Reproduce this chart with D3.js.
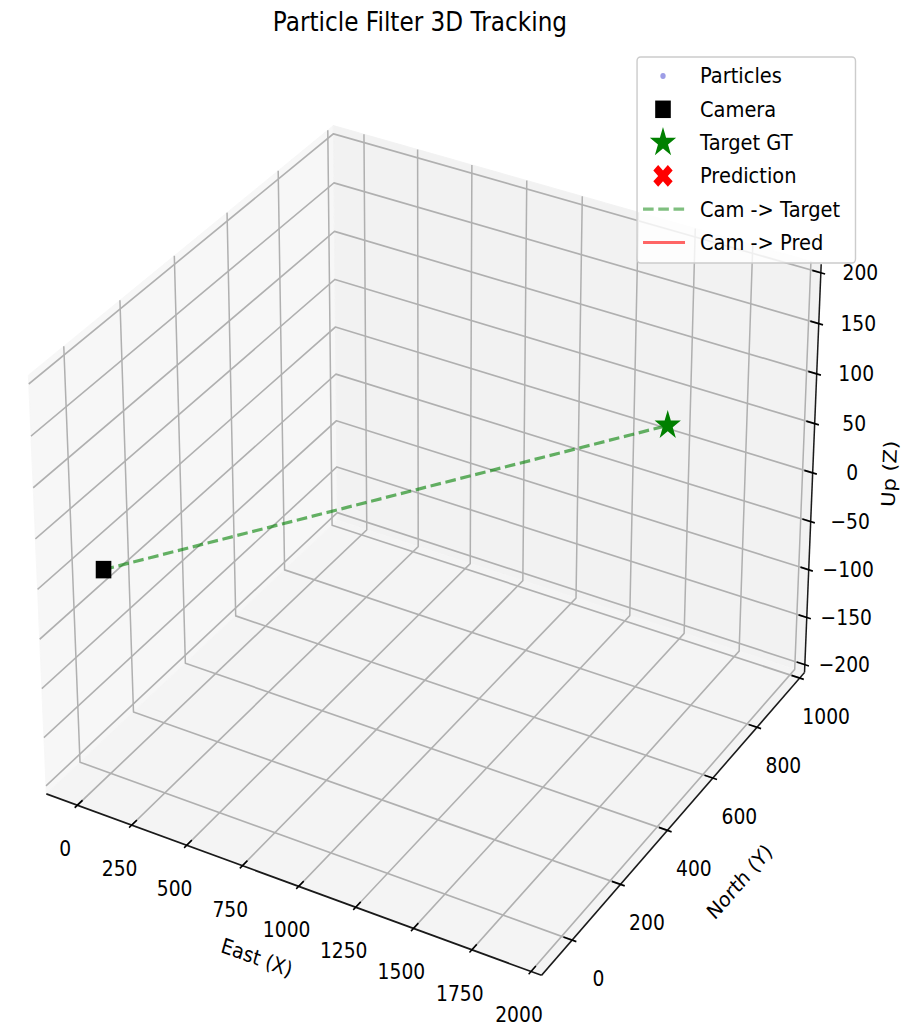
<!DOCTYPE html>
<html>
<head>
<meta charset="utf-8">
<script src="https://cdn.jsdelivr.net/npm/d3@7"></script>
<style>
  html, body { margin: 0; padding: 0; background: #ffffff; }
  svg { display: block; }
  text { font-family: "DejaVu Sans", sans-serif; fill: #000; }
</style>
</head>
<body>
<svg id="chart" width="920" height="1030"></svg>
<script>
// ---- data ----
const xLimits = [-100, 2000];
const yLimits = [-100, 1000];
const zLimits = [-200, 200];
const xTicks = [0, 250, 500, 750, 1000, 1250, 1500, 1750, 2000];
const yTicks = [0, 200, 400, 600, 800, 1000];
const zTicks = [-200, -150, -100, -50, 0, 50, 100, 150, 200];
const cameraPos = [0, 0, 0];
const targetPos = [1520, 900, 40];
const particles = [];          // no particle cloud in this frame
const predictions = [];        // no prediction in this frame
const legendLabels = ["Particles", "Camera", "Target GT", "Prediction", "Cam -> Target", "Cam -> Pred"];
const titleText = "Particle Filter 3D Tracking";
const axisTitles = ["East (X)", "North (Y)", "Up (Z)"];

// ---- 3D view (elevation / azimuth / perspective) ----
const squeeze = 0.8916;
const elev = 30 * Math.PI / 180, azim = -60 * Math.PI / 180, dist = 10;
const boxAspect = [4, 4, 3].map(v => v * 1.8294640721620434 * 25 / 24 / Math.hypot(4, 4, 3));
const margin = 1 / 48;
const padded = lim => { const r = lim[1] - lim[0]; return [lim[0] - margin * r, lim[1] + margin * r]; };

const bx = d3.scaleLinear().domain(padded(xLimits)).range([-boxAspect[0] / 2, boxAspect[0] / 2]);
const by = d3.scaleLinear().domain(padded(yLimits)).range([-boxAspect[1] / 2, boxAspect[1] / 2]);
const bz = d3.scaleLinear().domain(padded(zLimits)).range([-boxAspect[2] / 2, boxAspect[2] / 2]);
const [x0, x1] = bx.range(), [y0, y1] = by.range(), [z0, z1] = bz.range();

const w = [Math.cos(elev) * Math.cos(azim), Math.cos(elev) * Math.sin(azim), Math.sin(elev)];
const u = [-Math.sin(azim), Math.cos(azim), 0];
const v = [-Math.sin(elev) * Math.cos(azim), -Math.sin(elev) * Math.sin(azim), Math.cos(elev)];
const dot = (a, b) => a[0] * b[0] + a[1] * b[1] + a[2] * b[2];

const S = 5344;
const screenX = d3.scaleLinear().domain([0, 1]).range([485, 485 + S]);
const screenY = d3.scaleLinear().domain([0, 1]).range([530, 530 - S]);

function projBox(d) {
  const depth = dist - dot(w, d);
  return [screenX(dot(u, d) / depth), screenY(dot(v, d) / depth)];
}
const toBox = p => [bx(p[0]), by(p[1]), bz(p[2])];
const project = p => projBox(toBox(p));
const line = d3.line();

// ---- drawing ----
const svg = d3.select("#chart");
const root = svg.append("g").attr("transform", `scale(${squeeze},1)`);

// back panes
const panes = [
  { pts: [[x0, y0, z0], [x0, y1, z0], [x0, y1, z1], [x0, y0, z1]], fill: "rgb(247,247,247)" },
  { pts: [[x0, y1, z0], [x1, y1, z0], [x1, y1, z1], [x0, y1, z1]], fill: "rgb(242,242,242)" },
  { pts: [[x0, y0, z0], [x1, y0, z0], [x1, y1, z0], [x0, y1, z0]], fill: "rgb(244,244,244)" }
];
root.append("g").selectAll("path").data(panes).join("path")
  .attr("d", p => line(p.pts.map(projBox)) + "Z")
  .attr("fill", p => p.fill)
  .attr("stroke", p => p.fill)
  .attr("stroke-width", 1);

// grid lines on the panes
const gridPaths = [
  ...xTicks.map(t => [[bx(t), y0, z0], [bx(t), y1, z0], [bx(t), y1, z1]]),
  ...yTicks.map(t => [[x1, by(t), z0], [x0, by(t), z0], [x0, by(t), z1]]),
  ...zTicks.map(t => [[x0, y0, bz(t)], [x0, y1, bz(t)], [x1, y1, bz(t)]])
];
root.append("g").selectAll("path").data(gridPaths).join("path")
  .attr("d", g => line(g.map(projBox)))
  .attr("fill", "none")
  .attr("stroke", "#b0b0b0")
  .attr("stroke-width", 1.7)
  .attr("stroke-linejoin", "round");

// axis lines
const axisLines = [
  [[x0, y0, z0], [x1, y0, z0]],
  [[x1, y0, z0], [x1, y1, z0]],
  [[x1, y1, z0], [x1, y1, z1]]
];
root.append("g").selectAll("path").data(axisLines).join("path")
  .attr("d", a => line(a.map(projBox)))
  .attr("stroke", "#1a1a1a")
  .attr("stroke-width", 1.7)
  .attr("fill", "none");

// tick marks
const dX = (x1 - x0) / 12, dY = (y1 - y0) / 12;
const tickSegs = [
  ...xTicks.map(t => [[bx(t), y0 - 0.1 * dY, z0], [bx(t), y0 + 0.2 * dY, z0]]),
  ...yTicks.map(t => [[x1 + 0.1 * dX, by(t), z0], [x1 - 0.2 * dX, by(t), z0]]),
  ...zTicks.map(t => [[x1 + 0.1 * dX, y1, bz(t)], [x1 - 0.2 * dX, y1, bz(t)]])
];
root.append("g").selectAll("path").data(tickSegs).join("path")
  .attr("d", s => line(s.map(projBox)))
  .attr("stroke", "#000")
  .attr("stroke-width", 1.7);

// tick labels
const fmt = d3.format("d");
const tickFont = 21;
const tickLabels = [
  ...xTicks.map(t => ({ p: projBox([bx(t), y0, z0]), dx: -13.5, dy: 44, s: fmt(t) })),
  ...yTicks.map(t => ({ p: projBox([x1, by(t), z0]), dx: 29.7, dy: 39, s: fmt(t) })),
  ...zTicks.map(t => ({ p: projBox([x1, y1, bz(t)]), dx: 44.3, dy: 0.5, s: fmt(t) }))
];
root.append("g").selectAll("text").data(tickLabels).join("text")
  .attr("x", d => d.p[0] + d.dx)
  .attr("y", d => d.p[1] + d.dy)
  .attr("text-anchor", "middle")
  .attr("dominant-baseline", "central")
  .attr("font-size", tickFont)
  .text(d => d.s);

// axis titles, rotated along their axis
const normAngle = a => (a > 90 ? a - 180 : (a <= -90 ? a + 180 : a));
const axisTitleSpecs = [
  { edge: axisLines[0], mid: [0, y0, z0], dx: -34.3, dy: 75.8, text: axisTitles[0] },
  { edge: axisLines[1], mid: [x1, 0, z0], dx: 68.3, dy: 64.9, text: axisTitles[1] },
  { edge: axisLines[2], mid: [x1, y1, 0], dx: 86.5, dy: 1, text: axisTitles[2] }
];
root.append("g").selectAll("text").data(axisTitleSpecs).join("text")
  .each(function (d) {
    const a = projBox(d.edge[0]), b = projBox(d.edge[1]);
    const ang = normAngle(Math.atan2(b[1] - a[1], b[0] - a[0]) * 180 / Math.PI);
    const m = projBox(d.mid);
    const cx = m[0] + d.dx, cy = m[1] + d.dy;
    d3.select(this)
      .attr("transform", `translate(${cx},${cy}) rotate(${ang})`)
      .attr("text-anchor", "middle")
      .attr("dominant-baseline", "central")
      .attr("font-size", 21)
      .text(d.text);
  });

// ---- data marks ----
const starPath = (r) => {
  const pts = [];
  for (let i = 0; i < 10; i++) {
    const rr = i % 2 === 0 ? r : r * 0.381966;
    const a = -Math.PI / 2 + i * Math.PI / 5;
    pts.push([rr * Math.cos(a), rr * Math.sin(a)]);
  }
  return line(pts) + "Z";
};
const xMarkPath = (s) => {
  const base = [[-1, -3], [1, -3], [1, -1], [3, -1], [3, 1], [1, 1], [1, 3], [-1, 3], [-1, 1], [-3, 1], [-3, -1], [-1, -1]];
  const c = Math.SQRT1_2;
  return line(base.map(([px, py]) => [(px * c - py * c) * s / 6, (px * c + py * c) * s / 6])) + "Z";
};
const sqSide = 17.5, starR = 15.5, xSize = 23;

const marks = root.append("g");
// particles
marks.selectAll("circle.particle").data(particles).join("circle")
  .attr("class", "particle")
  .attr("cx", p => project(p)[0]).attr("cy", p => project(p)[1])
  .attr("r", 3).attr("fill", "#9d9de6");

// camera -> target
marks.append("path")
  .attr("d", line([cameraPos, targetPos].map(project)))
  .attr("stroke", "green").attr("stroke-opacity", 0.6)
  .attr("stroke-width", 3.2).attr("stroke-dasharray", "11.9 5.2")
  .attr("fill", "none");

// camera -> prediction
marks.selectAll("path.pred-line").data(predictions).join("path")
  .attr("class", "pred-line")
  .attr("d", p => line([cameraPos, p].map(project)))
  .attr("stroke", "red").attr("stroke-opacity", 0.6).attr("stroke-width", 3.2).attr("fill", "none");

// camera
const cam = project(cameraPos);
marks.append("rect")
  .attr("x", cam[0] - sqSide / 2).attr("y", cam[1] - sqSide / 2)
  .attr("width", sqSide).attr("height", sqSide)
  .attr("fill", "#000");

// target ground truth
const tgt = project(targetPos);
marks.append("path")
  .attr("transform", `translate(${tgt[0]},${tgt[1]})`)
  .attr("d", starPath(starR))
  .attr("fill", "green");

// predictions
marks.selectAll("path.pred").data(predictions).join("path")
  .attr("class", "pred")
  .attr("transform", p => { const q = project(p); return `translate(${q[0]},${q[1]})`; })
  .attr("d", xMarkPath(xSize)).attr("fill", "red");

// ---- legend ----
const legend = root.append("g");
legend.append("rect")
  .attr("x", 714.5).attr("y", 57).attr("width", 245).attr("height", 206)
  .attr("rx", 4).attr("ry", 4)
  .attr("fill", "#fff").attr("fill-opacity", 0.8)
  .attr("stroke", "#cccccc").attr("stroke-width", 1.6);

const rowY = i => 76 + i * 33.3;
const mx = 743.6, lx0 = 721.2, lx1 = 768.3, tx = 785.1;
const swatches = [
  g => g.append("circle").attr("cx", mx).attr("cy", 0).attr("r", 3).attr("fill", "#9d9de6"),
  g => g.append("rect").attr("x", mx - sqSide / 2).attr("y", -sqSide / 2).attr("width", sqSide).attr("height", sqSide).attr("fill", "#000"),
  g => g.append("path").attr("transform", `translate(${mx},0)`).attr("d", starPath(starR)).attr("fill", "green"),
  g => g.append("path").attr("transform", `translate(${mx},0)`).attr("d", xMarkPath(xSize)).attr("fill", "red"),
  g => g.append("line").attr("x1", lx0).attr("x2", lx1).attr("y1", 0).attr("y2", 0)
        .attr("stroke", "green").attr("stroke-opacity", 0.5).attr("stroke-width", 3.2).attr("stroke-dasharray", "11.9 5.2"),
  g => g.append("line").attr("x1", lx0).attr("x2", lx1).attr("y1", 0).attr("y2", 0)
        .attr("stroke", "red").attr("stroke-opacity", 0.6).attr("stroke-width", 3.2)
];
legendLabels.forEach((lab, i) => {
  const g = legend.append("g").attr("transform", `translate(0,${rowY(i)})`);
  swatches[i](g);
  g.append("text").attr("x", tx).attr("y", 0)
    .attr("dominant-baseline", "central")
    .attr("font-size", 21.8).text(lab);
});

// ---- title ----
root.append("text")
  .attr("x", 471).attr("y", 31)
  .attr("text-anchor", "middle")
  .attr("font-size", 26)
  .text(titleText);
</script>
</body>
</html>
